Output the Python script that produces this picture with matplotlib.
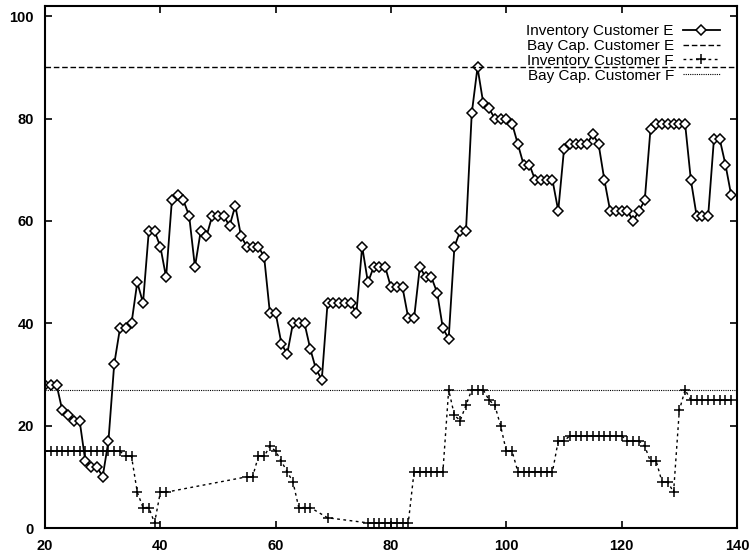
import numpy as np
import matplotlib
matplotlib.use("Agg")
import matplotlib.pyplot as plt

# inventory levels
days_e = np.arange(20, 140)
inv_e = [28, 28, 28, 23, 22, 21, 21, 13, 12, 12,
         10, 17, 32, 39, 39, 40, 48, 44, 58, 58,
         55, 49, 64, 65, 64, 61, 51, 58, 57, 61,
         61, 61, 59, 63, 57, 55, 55, 55, 53, 42,
         42, 36, 34, 40, 40, 40, 35, 31, 29, 44,
         44, 44, 44, 44, 42, 55, 48, 51, 51, 51,
         47, 47, 47, 41, 41, 51, 49, 49, 46, 39,
         37, 55, 58, 58, 81, 90, 83, 82, 80, 80,
         80, 79, 75, 71, 71, 68, 68, 68, 68, 62,
         74, 75, 75, 75, 75, 77, 75, 68, 62, 62,
         62, 62, 60, 62, 64, 78, 79, 79, 79, 79,
         79, 79, 68, 61, 61, 61, 76, 76, 71, 65]

days_f = [20, 21, 22, 23, 24, 25, 26, 27, 28, 29, 30, 31, 32, 33,
          34, 35, 36, 37, 38, 39, 40, 41,
          55, 56, 57, 58, 59, 60, 61, 62, 63, 64, 65, 66, 69,
          76, 77, 78, 79, 80, 81, 82, 83,
          84, 85, 86, 87, 88, 89, 90, 91, 92, 93, 94, 95, 96, 97, 98, 99,
          100, 101, 102, 103, 104, 105, 106, 107, 108, 109, 110,
          111, 112, 113, 114, 115, 116, 117, 118, 119, 120,
          121, 122, 123, 124, 125, 126, 127, 128, 129, 130, 131,
          132, 133, 134, 135, 136, 137, 138, 139]
inv_f = [15, 15, 15, 15, 15, 15, 15, 15, 15, 15, 15, 15, 15, 15,
         14, 14, 7, 4, 4, 1, 7, 7,
         10, 10, 14, 14, 16, 15, 13, 11, 9, 4, 4, 4, 2,
         1, 1, 1, 1, 1, 1, 1, 1,
         11, 11, 11, 11, 11, 11, 27, 22, 21, 24, 27, 27, 27, 25, 24, 20,
         15, 15, 11, 11, 11, 11, 11, 11, 11, 17, 17,
         18, 18, 18, 18, 18, 18, 18, 18, 18, 18,
         17, 17, 17, 16, 13, 13, 9, 9, 7, 23, 27,
         25, 25, 25, 25, 25, 25, 25, 25]

bay_cap_e = 90
bay_cap_f = 27

plt.rcParams['font.family'] = ['Liberation Sans', 'DejaVu Sans']

fig = plt.figure(figsize=(7.49, 5.55), dpi=100)
ax = fig.add_axes([45 / 749, 27 / 555, 692 / 749, 522 / 555])

ax.plot(days_e, inv_e, color='black', lw=1.3, marker='D', ms=5.3,
        mfc='white', mec='black', mew=1.1, label='Inventory Customer E')
ax.axhline(bay_cap_e, color='black', lw=1.0, ls=(0, (4, 2)),
           label='Bay Cap. Customer E')
ax.plot(days_f, inv_f, color='black', lw=1.0, ls=(0, (2, 2.5)), marker='+',
        ms=7, mew=1.1, label='Inventory Customer F')
ax.axhline(bay_cap_f, color='black', lw=0.8, ls=(0, (1, 1)),
           label='Bay Cap. Customer F')

ax.set_xlim(20, 140)
ax.set_ylim(0, 102)
ax.set_xticks([20, 40, 60, 80, 100, 120, 140])
ax.set_yticks([0, 20, 40, 60, 80, 100])
ax.tick_params(direction='in', top=True, right=True, length=5, width=1.2,
               labelsize=10.5, pad=8)
for lab in ax.get_xticklabels() + ax.get_yticklabels():
    lab.set_fontweight('bold')
for sp in ax.spines.values():
    sp.set_linewidth(1.5)

leg = ax.legend(loc='upper right', bbox_to_anchor=(0.975, 0.965),
                frameon=False, markerfirst=False, numpoints=1,
                fontsize=11, labelspacing=0.05, handlelength=2.4,
                handletextpad=0.6, borderpad=0, borderaxespad=0)
# right-align the entries like gnuplot does
leg._legend_handle_box.get_children()[0].align = 'right'

fig.savefig('out.png', dpi=100)
